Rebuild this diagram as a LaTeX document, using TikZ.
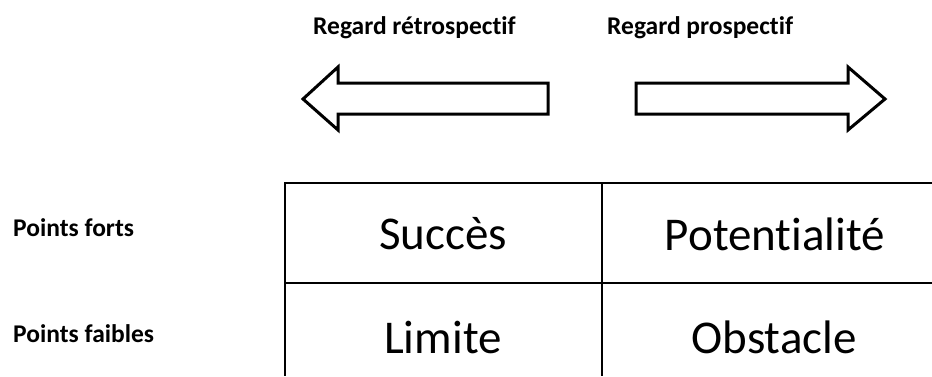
\documentclass[tikz,border=0pt]{standalone}
\usepackage{fontspec}
\setmainfont[Ligatures={NoCommon}]{Carlito}
\begin{document}
\begin{tikzpicture}[x=1pt,y=-1pt,
  lab/.style={font=\bfseries\fontsize{25.5}{30}\selectfont,inner sep=0pt},
  cell/.style={font=\fontsize{47}{56}\selectfont,inner sep=0pt},
  bigarrow/.style={draw=black,line width=3pt,fill=white,line join=miter},
  grid/.style={draw=black,line width=1.8pt}]
\useasboundingbox (0,0) rectangle (932,376);
% top labels
\node[lab,anchor=west] (retro) at (313,28) {Regard rétrospectif};
\node[lab,anchor=west] (prosp) at (607,28) {Regard prospectif};
% arrows
\draw[bigarrow] (548,83) -- (338,83) -- (338,67) -- (303,99) -- (338,130) -- (338,114) -- (548,114) -- cycle;
\draw[bigarrow] (636,83) -- (848,83) -- (848,67) -- (885,99) -- (848,130) -- (848,114) -- (636,114) -- cycle;
% table
\draw[grid] (932,183) -- (285,183) -- (285,376);
\draw[grid] (602,183) -- (602,376);
\draw[grid] (285,283) -- (932,283);
% row labels
\node[lab,anchor=west] (forts) at (13,228) {Points forts};
\node[lab,anchor=west] (faibles) at (13,334) {Points faibles};
% cells
\node[cell] (succes) at (443,234) {Succès};
\node[cell] (potent) at (775,234) {Potentialité};
\node[cell] (limite) at (443,337) {Limite};
\node[cell] (obst) at (774,337) {Obstacle};
\end{tikzpicture}
\end{document}
